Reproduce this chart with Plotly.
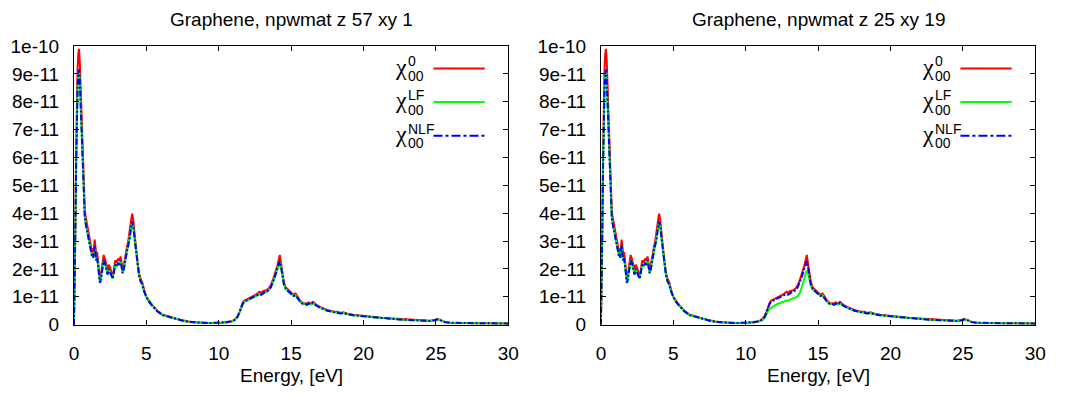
import plotly.graph_objects as go

# Energy grid (eV)
energy = [0.00, 0.05, 0.10, 0.15, 0.20, 0.25, 0.30, 0.35, 0.40, 0.45, 0.50, 0.55, 0.60, 0.65, 0.70, 0.75,
          0.80, 0.90, 1.00, 1.10, 1.20, 1.25, 1.30, 1.35, 1.43, 1.50, 1.55, 1.60, 1.70, 1.80, 1.85, 1.95,
          2.05, 2.15, 2.25, 2.32, 2.40, 2.50, 2.60, 2.68, 2.75, 2.85, 2.95, 3.05, 3.15, 3.22, 3.30, 3.36,
          3.45, 3.55, 3.65, 3.75, 3.85, 3.95, 4.02, 4.10, 4.20, 4.30, 4.40, 4.50, 4.60, 4.72, 4.80, 4.90,
          5.00, 5.10, 5.25, 5.44, 5.60, 5.75, 5.90, 6.10, 6.30, 6.50, 6.80, 7.00, 7.30, 7.60, 7.94, 8.30,
          8.80, 9.40, 10.0, 10.5, 10.9, 11.1, 11.3, 11.45, 11.56, 11.65, 11.75, 11.9, 12.05, 12.2, 12.35, 12.5,
          12.65, 12.81, 12.95, 13.05, 13.15, 13.3, 13.45, 13.6, 13.75, 13.85, 13.95, 14.05, 14.15, 14.22, 14.3, 14.4,
          14.5, 14.63, 14.8, 14.97, 15.15, 15.31, 15.45, 15.6, 15.75, 15.87, 16.0, 16.1, 16.21, 16.35, 16.51, 16.65,
          16.78, 17.0, 17.24, 17.5, 17.7, 17.92, 18.2, 18.4, 18.6, 18.9, 19.27, 19.7, 20.2, 20.7, 21.2, 21.7,
          22.2, 22.7, 23.2, 23.7, 24.2, 24.6, 24.9, 25.1, 25.3, 25.6, 26.0, 26.5, 27.0, 27.5, 28.0, 28.5,
          29.0, 29.5, 30.0]

# chi values in units of 1e-11
chi0 = [0, 1.5, 3.8, 6.2, 8.2, 9.2, 9.7, 9.9, 9.5, 8.7, 7.7, 6.8, 5.9, 5.1, 4.5, 4.1,
        3.9, 3.6, 3.35, 3.05, 2.85, 2.6, 2.75, 2.55, 3.05, 2.8, 2.5, 2.6, 2.2, 1.6, 1.75, 2.2,
        2.5, 2.35, 2.05, 1.95, 2.15, 2.05, 1.85, 1.75, 1.95, 2.3, 2.25, 2.35, 2.3, 2.45, 2.2, 1.95,
        2.15, 2.55, 2.75, 3.0, 3.3, 3.75, 3.98, 3.75, 3.2, 2.65, 2.2, 1.85, 1.65, 1.52, 1.3, 1.15,
        1.0, 0.92, 0.8, 0.68, 0.6, 0.5, 0.45, 0.36, 0.34, 0.30, 0.24, 0.22, 0.18, 0.14, 0.11, 0.09,
        0.07, 0.06, 0.06, 0.08, 0.12, 0.18, 0.30, 0.47, 0.65, 0.78, 0.86, 0.9, 0.95, 0.97, 1.02, 1.05,
        1.1, 1.18, 1.14, 1.2, 1.22, 1.24, 1.3, 1.42, 1.62, 1.78, 1.95, 2.12, 2.35, 2.5, 2.2, 1.8,
        1.52, 1.33, 1.25, 1.18, 1.08, 1.12, 0.98, 0.88, 0.8, 0.76, 0.77, 0.74, 0.8, 0.75, 0.82, 0.74,
        0.7, 0.64, 0.58, 0.53, 0.5, 0.47, 0.46, 0.42, 0.44, 0.39, 0.36, 0.33, 0.3, 0.28, 0.25, 0.23,
        0.21, 0.19, 0.17, 0.16, 0.15, 0.14, 0.17, 0.2, 0.17, 0.1, 0.07, 0.06, 0.06, 0.05, 0.05, 0.05,
        0.05, 0.04, 0.04]

chi_nlf = [0, 1.4, 3.5, 5.7, 7.6, 8.5, 9.0, 9.15, 8.8, 8.0, 7.1, 6.3, 5.5, 4.8, 4.2, 3.85,
           3.65, 3.4, 3.15, 2.9, 2.7, 2.45, 2.55, 2.4, 2.85, 2.6, 2.3, 2.4, 2.0, 1.5, 1.6, 2.05,
           2.3, 2.2, 1.9, 1.8, 2.0, 1.9, 1.75, 1.65, 1.85, 2.15, 2.1, 2.2, 2.15, 2.3, 2.05, 1.85,
           2.0, 2.4, 2.6, 2.85, 3.1, 3.5, 3.7, 3.5, 3.0, 2.5, 2.1, 1.75, 1.55, 1.45, 1.25, 1.1,
           0.97, 0.88, 0.77, 0.65, 0.57, 0.48, 0.43, 0.34, 0.32, 0.29, 0.23, 0.21, 0.17, 0.13, 0.10, 0.08,
           0.07, 0.06, 0.06, 0.08, 0.12, 0.17, 0.28, 0.45, 0.62, 0.74, 0.82, 0.86, 0.9, 0.93, 0.97, 1.0,
           1.04, 1.1, 1.08, 1.13, 1.16, 1.18, 1.24, 1.35, 1.53, 1.68, 1.85, 2.0, 2.2, 2.28, 2.08, 1.7,
           1.45, 1.28, 1.2, 1.13, 1.03, 1.05, 0.93, 0.84, 0.76, 0.73, 0.74, 0.71, 0.76, 0.72, 0.78, 0.71,
           0.67, 0.61, 0.55, 0.5, 0.48, 0.45, 0.44, 0.40, 0.42, 0.37, 0.34, 0.31, 0.29, 0.27, 0.24, 0.22,
           0.2, 0.18, 0.16, 0.15, 0.14, 0.13, 0.16, 0.19, 0.16, 0.09, 0.07, 0.06, 0.06, 0.05, 0.05, 0.05,
           0.05, 0.04, 0.04]

chi_lf_left = [0, 1.4, 3.5, 5.7, 7.6, 8.5, 8.95, 9.1, 8.75, 8.0, 7.1, 6.3, 5.5, 4.8, 4.2, 3.85,
               3.65, 3.4, 3.15, 2.9, 2.7, 2.45, 2.55, 2.4, 2.83, 2.6, 2.3, 2.4, 2.0, 1.5, 1.6, 2.05,
               2.3, 2.2, 1.9, 1.8, 2.0, 1.9, 1.75, 1.65, 1.85, 2.15, 2.1, 2.2, 2.15, 2.3, 2.05, 1.85,
               2.0, 2.4, 2.6, 2.85, 3.1, 3.48, 3.68, 3.5, 3.0, 2.5, 2.1, 1.75, 1.55, 1.45, 1.25, 1.1,
               0.97, 0.88, 0.77, 0.65, 0.57, 0.48, 0.43, 0.34, 0.32, 0.29, 0.23, 0.21, 0.17, 0.13, 0.10, 0.08,
               0.07, 0.06, 0.06, 0.08, 0.12, 0.17, 0.28, 0.44, 0.61, 0.73, 0.81, 0.85, 0.89, 0.92, 0.96, 0.99,
               1.03, 1.09, 1.07, 1.12, 1.15, 1.17, 1.23, 1.34, 1.52, 1.67, 1.84, 1.99, 2.18, 2.26, 2.07, 1.7,
               1.45, 1.28, 1.2, 1.13, 1.03, 1.05, 0.93, 0.84, 0.76, 0.73, 0.74, 0.71, 0.76, 0.72, 0.78, 0.71,
               0.67, 0.61, 0.55, 0.5, 0.48, 0.45, 0.44, 0.40, 0.42, 0.37, 0.34, 0.31, 0.29, 0.27, 0.24, 0.22,
               0.2, 0.18, 0.16, 0.15, 0.14, 0.13, 0.16, 0.19, 0.16, 0.09, 0.07, 0.06, 0.06, 0.05, 0.05, 0.05,
               0.05, 0.04, 0.04]

chi_lf_right = [0, 1.4, 3.5, 5.7, 7.6, 8.5, 8.95, 9.1, 8.75, 8.0, 7.1, 6.3, 5.5, 4.8, 4.2, 3.85,
                3.65, 3.4, 3.15, 2.9, 2.7, 2.45, 2.55, 2.4, 2.83, 2.6, 2.3, 2.4, 2.0, 1.5, 1.6, 2.05,
                2.3, 2.2, 1.9, 1.8, 2.0, 1.9, 1.75, 1.65, 1.85, 2.15, 2.1, 2.2, 2.15, 2.3, 2.05, 1.85,
                2.0, 2.4, 2.6, 2.85, 3.1, 3.48, 3.68, 3.5, 3.0, 2.5, 2.1, 1.75, 1.55, 1.45, 1.25, 1.1,
                0.97, 0.88, 0.77, 0.65, 0.57, 0.48, 0.43, 0.34, 0.32, 0.29, 0.23, 0.21, 0.17, 0.13, 0.10, 0.08,
                0.07, 0.06, 0.06, 0.08, 0.11, 0.15, 0.22, 0.40, 0.50, 0.56, 0.60, 0.66, 0.70, 0.74, 0.78, 0.80,
                0.83, 0.87, 0.86, 0.90, 0.93, 0.95, 0.98, 1.02, 1.15, 1.30, 1.45, 1.65, 1.85, 1.95, 1.85, 1.55,
                1.38, 1.26, 1.2, 1.13, 1.03, 1.05, 0.93, 0.84, 0.76, 0.73, 0.74, 0.71, 0.76, 0.72, 0.78, 0.71,
                0.67, 0.61, 0.55, 0.5, 0.48, 0.45, 0.44, 0.40, 0.42, 0.37, 0.34, 0.31, 0.29, 0.27, 0.24, 0.22,
                0.2, 0.18, 0.16, 0.15, 0.14, 0.13, 0.16, 0.19, 0.16, 0.09, 0.07, 0.06, 0.06, 0.05, 0.05, 0.05,
                0.05, 0.04, 0.04]

titles = ["Graphene, npwmat z 57 xy 1", "Graphene, npwmat z 25 xy 19"]
x_ticks = [0, 5, 10, 15, 20, 25, 30]
y_ticks = [0, 1, 2, 3, 4, 5, 6, 7, 8, 9, 10]
y_tick_labels = ["0", "1e-11", "2e-11", "3e-11", "4e-11", "5e-11", "6e-11", "7e-11", "8e-11", "9e-11", "1e-10"]
legend_sup = ["0", "LF", "NLF"]
colors = ["#ff0000", "#00ff00", "#0000ff"]

W, H = 1065, 402
FONT = "Liberation Sans, Arial, sans-serif"
FS = 19

panels = [
    dict(x0=70, x1=511, lf=chi_lf_left, title=titles[0]),
    dict(x0=605, x1=1046, lf=chi_lf_right, title=titles[1]),
]
y_top, y_bot = 38, 332

fig = go.Figure()
annotations = []
shapes = []
for i, p in enumerate(panels):
    xa = "x" if i == 0 else "x2"
    ya = "y" if i == 0 else "y2"
    series = [chi0, p["lf"], chi_nlf]
    dashes = ["solid", "solid", "6px,2px,2px,2px"]
    for s, c, d in zip(series, colors, dashes):
        fig.add_trace(go.Scatter(x=energy, y=s, mode="lines", xaxis=xa, yaxis=ya,
                                 line=dict(color=c, width=2, dash=d), showlegend=False))
    axis_x = dict(domain=[p["x0"] / W, p["x1"] / W], range=[0, 30], tickvals=x_ticks,
                  ticks="inside", ticklen=5, tickcolor="black", showline=True, linecolor="black",
                  linewidth=1, mirror="ticks", showgrid=False, zeroline=False,
                  tickfont=dict(family=FONT, size=FS, color="black"), ticklabelstandoff=12,
                  anchor=ya)
    axis_y = dict(domain=[1 - y_bot / H, 1 - y_top / H], range=[0, 10], tickvals=y_ticks,
                  ticktext=y_tick_labels, ticks="inside", ticklen=5, tickcolor="black",
                  showline=True, linecolor="black", linewidth=1, mirror="ticks",
                  showgrid=False, zeroline=False,
                  tickfont=dict(family=FONT, size=FS, color="black"), ticklabelstandoff=10,
                  anchor=xa)
    if i == 0:
        fig.update_layout(xaxis=axis_x, yaxis=axis_y)
    else:
        fig.update_layout(xaxis2=axis_x, yaxis2=axis_y)
    cx = (p["x0"] + p["x1"]) / 2
    annotations.append(dict(x=cx / W, y=1 - 10 / H, xref="paper", yref="paper", text=p["title"],
                            showarrow=False, xanchor="center", yanchor="middle",
                            font=dict(family=FONT, size=FS, color="black")))
    annotations.append(dict(x=cx / W, y=1 - 386 / H, xref="paper", yref="paper", text="Energy, [eV]",
                            showarrow=False, xanchor="center", yanchor="middle",
                            font=dict(family=FONT, size=FS, color="black")))
    # legend (gnuplot style: text on the left, sample line on the right)
    chi_x = p["x1"] - 102
    ln_x0 = p["x1"] - 76
    ln_x1 = p["x1"] - 24
    for k, (sup, c) in enumerate(zip(legend_sup, colors)):
        yl = 61.7 + 35.5 * k
        annotations.append(dict(x=(chi_x + 1) / W, y=1 - (yl - 2) / H, xref="paper", yref="paper",
                                text="χ", showarrow=False, xanchor="right", yanchor="middle",
                                font=dict(family="Liberation Serif, serif", size=24, color="black")))
        annotations.append(dict(x=(chi_x - 2) / W, y=1 - (yl - 7.5) / H, xref="paper", yref="paper",
                                text=sup, showarrow=False, xanchor="left", yanchor="middle",
                                font=dict(family=FONT, size=14, color="black")))
        annotations.append(dict(x=(chi_x - 2) / W, y=1 - (yl + 8) / H, xref="paper", yref="paper",
                                text="00", showarrow=False, xanchor="left", yanchor="middle",
                                font=dict(family=FONT, size=14, color="black")))
        shapes.append(dict(type="line", xref="paper", yref="paper", x0=ln_x0 / W, x1=ln_x1 / W,
                           y0=1 - yl / H, y1=1 - yl / H,
                           line=dict(color=c, width=2, dash="dashdot" if k == 2 else "solid")))

fig.update_layout(width=W, height=H, margin=dict(l=0, r=0, t=0, b=0),
                  paper_bgcolor="white", plot_bgcolor="white",
                  annotations=annotations, shapes=shapes,
                  font=dict(family=FONT, size=FS, color="black"))
fig.write_html("out.html")
